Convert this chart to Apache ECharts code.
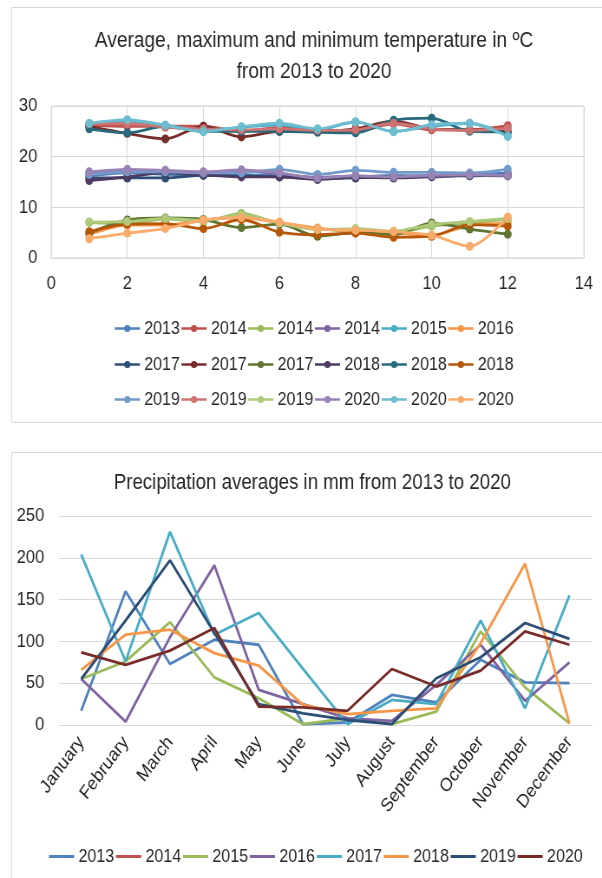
<!DOCTYPE html>
<html>
<head>
<meta charset="utf-8">
<script src="https://cdn.jsdelivr.net/npm/echarts@6/dist/echarts.min.js"></script>
<style>
  html, body { margin: 0; padding: 0; background: #fff; overflow: hidden; }
  /* The figure is laid out on a wider canvas and squeezed horizontally,
     which gives the narrow lettering and slightly oval markers. */
  #chart { width: 694px; height: 878px; transform: scaleX(0.8675); transform-origin: 0 0; }
</style>
</head>
<body>
<div id="chart"></div>
<script>
// ---------- Temperature (ºC), month number 1..12 ----------
const monthNumbers = [1, 2, 3, 4, 5, 6, 7, 8, 9, 10, 11, 12];
const tempLegend = ['2013', '2014', '2014', '2014', '2015', '2016',
                    '2017', '2017', '2017', '2018', '2018', '2018',
                    '2019', '2019', '2019', '2020', '2020', '2020'];

const t2013  = [16.2, 16.8, 16.5, 16.4, 16.3, 16.5, 15.8, 16.0, 16.3, 16.2, 16.4, 16.8];
const t2014a = [26.2, 26.0, 26.0, 26.0, 25.0, 25.8, 25.2, 25.0, 26.5, 25.3, 25.3, 26.1];
const t2014b = [7.0, 6.8, 7.7, 7.2, 8.8, 6.8, 5.8, 5.2, 5.0, 6.3, 6.9, 7.7];
const t2014c = [16.8, 17.3, 17.2, 16.9, 17.2, 16.6, 15.9, 16.2, 15.9, 16.0, 16.3, 16.3];
const t2015  = [26.3, 27.0, 26.2, 25.2, 25.8, 26.3, 25.3, 26.8, 25.0, 26.0, 26.6, 24.3];
const t2016  = [4.6, 6.5, 6.5, 7.5, 7.9, 7.0, 5.9, 5.3, 4.9, 4.5, 6.4, 6.9];
const t2017a = [15.8, 15.8, 15.8, 16.3, 16.2, 16.0, 15.7, 15.8, 16.0, 16.2, 16.2, 16.4];
const t2017b = [26.0, 24.6, 23.5, 26.0, 23.9, 25.0, 25.0, 25.5, 27.0, 25.5, 25.3, 25.0];
const t2017c = [4.9, 7.5, 7.9, 7.6, 6.0, 6.7, 4.3, 5.0, 4.6, 6.9, 5.7, 4.7];
const t2018a = [15.3, 16.0, 16.8, 16.4, 16.0, 16.0, 15.5, 15.9, 15.8, 16.1, 16.3, 16.2];
const t2018b = [25.5, 24.7, 26.0, 25.0, 25.0, 25.0, 24.8, 24.7, 27.2, 27.6, 25.0, 24.9];
const t2018c = [5.2, 6.7, 6.8, 5.8, 7.6, 5.1, 4.6, 4.9, 4.1, 4.3, 6.6, 6.3];
const t2019a = [16.5, 17.0, 17.0, 16.8, 16.8, 17.5, 16.5, 17.3, 16.9, 16.9, 16.8, 17.5];
const t2019b = [26.5, 26.5, 25.8, 25.5, 25.3, 25.5, 25.2, 25.3, 26.6, 25.5, 25.2, 25.6];
const t2019c = [7.1, 7.2, 7.8, 7.4, 8.5, 6.9, 5.6, 5.8, 5.3, 6.6, 7.2, 7.8];
const t2020a = [17.0, 17.5, 17.3, 17.0, 17.4, 16.8, 15.8, 16.2, 16.0, 16.3, 16.4, 16.3];
const t2020b = [26.6, 27.3, 26.2, 25.0, 25.9, 26.6, 25.5, 26.9, 24.9, 26.3, 26.6, 24.0];
const t2020c = [3.8, 4.9, 5.8, 7.5, 8.0, 7.1, 5.7, 5.5, 5.2, 4.5, 2.3, 8.1];

const tempSeriesData = [t2013, t2014a, t2014b, t2014c, t2015, t2016,
                        t2017a, t2017b, t2017c, t2018a, t2018b, t2018c,
                        t2019a, t2019b, t2019c, t2020a, t2020b, t2020c];

const tempColors = ['#4F81BD', '#C0504D', '#9BBB59', '#8064A2', '#4BACC6', '#F79646',
                    '#2C4D75', '#772C2A', '#5F7530', '#4D3B62', '#276A7C', '#B65708',
                    '#729ACA', '#CD7371', '#AFC97A', '#9983B5', '#6FBDD1', '#F9AB6B'];

const tempXTicks = { min: 0, max: 14, step: 2 };
const tempYTicks = { min: 0, max: 30, step: 10 };

// ---------- Precipitation (mm) ----------
const monthNames = ['January', 'February', 'March', 'April', 'May', 'June',
                    'July', 'August', 'September', 'October', 'November', 'December'];
const precipYears = ['2013', '2014', '2015', '2016', '2017', '2018', '2019', '2020'];

const p2013 = [17, 160, 73, 102, 96, 1, 3, 36, 27, 78, 51, 50];
const p2014 = [];
const p2015 = [55, 76, 123, 57, 32, 1, 8, 1, 16, 112, 45, 2];
const p2016 = [55, 4, 105, 191, 42, 25, 8, 5, 48, 96, 29, 75];
const p2017 = [204, 76, 231, 108, 134, 67, 1, 30, 25, 125, 20, 155];
const p2018 = [66, 108, 114, 86, 71, 24, 13, 17, 20, 98, 193, 2];
const p2019 = [55, 125, 197, 110, 25, 14, 6, 1, 56, 81, 122, 103];
const p2020 = [87, 72, 89, 116, 22, 21, 17, 67, 46, 65, 112, 96];

const precipSeriesData = [p2013, p2014, p2015, p2016, p2017, p2018, p2019, p2020];
const precipColors = ['#4F81BD', '#C0504D', '#9BBB59', '#8064A2', '#4BACC6', '#F79646', '#2C4D75', '#772C2A'];

const precipYTicks = { min: 0, max: 250, step: 50 };

// ---------- Build the option ----------
const FONT = '"Liberation Sans", Arial, sans-serif';
const TEXT = '#262626';
const GRID = '#D9D9D9';

// Both charts share one instance, and several labels repeat, so every series
// gets a unique name: the label plus zero-width spaces, stripped for display.
const ZW = '\u200b';
const seen = {};
const tempKeys = tempLegend.map(function (label) {
  seen[label] = (seen[label] || 0) + 1;
  return label + ZW.repeat(seen[label] - 1);
});
const precipKeys = precipYears.map(function (label) { return label + ZW.repeat(4); });
const stripZw = function (name) { return name.replace(/\u200b/g, ''); };

const tempSeries = tempSeriesData.map(function (vals, i) {
  return {
    type: 'line',
    name: tempKeys[i],
    xAxisIndex: 0,
    yAxisIndex: 0,
    data: vals.map(function (v, k) { return [monthNumbers[k], v]; }),
    smooth: 0.3,
    symbol: 'circle',
    symbolSize: 9,
    lineStyle: { width: 2.8, color: tempColors[i] },
    itemStyle: { color: tempColors[i] },
    emphasis: { disabled: true },
    z: 2
  };
});

const precipSeries = precipSeriesData.map(function (vals, i) {
  return {
    type: 'line',
    name: precipKeys[i],
    xAxisIndex: 1,
    yAxisIndex: 1,
    data: vals,
    symbol: 'none',
    lineStyle: { width: 2.8, color: precipColors[i] },
    itemStyle: { color: precipColors[i] },
    emphasis: { disabled: true },
    z: 2
  };
});

function legendRow(names, top) {
  return {
    top: top,
    left: 126,
    data: names,
    itemWidth: 29,
    itemHeight: 9,
    itemGap: 0.5,
    formatter: stripZw,
    lineStyle: { width: 2.5 },
    textStyle: { fontFamily: FONT, fontSize: 18.5, color: TEXT },
    selectedMode: false
  };
}

const option = {
  backgroundColor: '#ffffff',
  animation: false,
  graphic: [
    { type: 'rect', shape: { x: 13.5, y: 7.5, width: 690, height: 415 },
      style: { fill: 'none', stroke: GRID, lineWidth: 1 }, silent: true },
    { type: 'rect', shape: { x: 13.5, y: 452.5, width: 690, height: 440 },
      style: { fill: 'none', stroke: GRID, lineWidth: 1 }, silent: true }
  ],
  title: [
    {
      text: 'Average, maximum and minimum temperature in ºC\nfrom 2013 to 2020',
      left: 357, top: 20, textAlign: 'center',
      textStyle: { fontFamily: FONT, fontSize: 22, fontWeight: 'normal', color: TEXT, lineHeight: 31 }
    },
    {
      text: 'Precipitation averages in mm from 2013 to 2020',
      left: 355, top: 467, textAlign: 'center',
      textStyle: { fontFamily: FONT, fontSize: 21.5, fontWeight: 'normal', color: TEXT }
    }
  ],
  legend: [
    legendRow(tempKeys.slice(0, 6), 314),
    legendRow(tempKeys.slice(6, 12), 350),
    legendRow(tempKeys.slice(12, 18), 385),
    {
      top: 842,
      left: 50,
      data: precipKeys,
      formatter: stripZw,
      itemWidth: 29,
      itemHeight: 3,
      itemGap: 0.5,
      lineStyle: { width: 3 },
      textStyle: { fontFamily: FONT, fontSize: 18.5, color: TEXT },
      selectedMode: false
    }
  ],
  grid: [
    { left: 59, right: 21, top: 106, bottom: 620, show: true, borderColor: GRID, borderWidth: 1, containLabel: false },
    { left: 68, right: 12, top: 516, bottom: 153, containLabel: false }
  ],
  xAxis: [
    {
      gridIndex: 0, type: 'value',
      min: tempXTicks.min, max: tempXTicks.max, interval: tempXTicks.step,
      axisLine: { show: true, lineStyle: { color: GRID } },
      axisTick: { show: false },
      splitLine: { show: true, lineStyle: { color: GRID } },
      axisLabel: { fontFamily: FONT, fontSize: 19, color: TEXT, margin: 16 }
    },
    {
      gridIndex: 1, type: 'category', data: monthNames, boundaryGap: true,
      axisLine: { show: true, lineStyle: { color: GRID } },
      axisTick: { show: false },
      splitLine: { show: false },
      axisLabel: { fontFamily: FONT, fontSize: 19, color: TEXT, rotate: 50, margin: 14, interval: 0 }
    }
  ],
  yAxis: [
    {
      gridIndex: 0, type: 'value',
      min: tempYTicks.min, max: tempYTicks.max, interval: tempYTicks.step,
      axisLine: { show: false }, axisTick: { show: false },
      splitLine: { show: true, lineStyle: { color: GRID } },
      axisLabel: { fontFamily: FONT, fontSize: 19, color: TEXT, margin: 16 }
    },
    {
      gridIndex: 1, type: 'value',
      min: precipYTicks.min, max: precipYTicks.max, interval: precipYTicks.step,
      axisLine: { show: false }, axisTick: { show: false },
      splitLine: { show: true, lineStyle: { color: GRID } },
      axisLabel: { fontFamily: FONT, fontSize: 19, color: TEXT, margin: 17 }
    }
  ],
  series: tempSeries.concat(precipSeries)
};

const chart = echarts.init(document.getElementById('chart'), null, { renderer: 'canvas' });
chart.setOption(option);
</script>
</body>
</html>
